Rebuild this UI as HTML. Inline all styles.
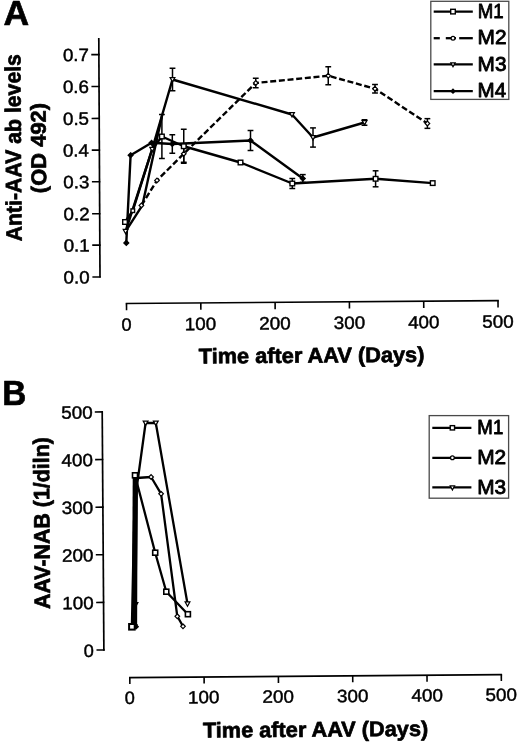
<!DOCTYPE html>
<html><head><meta charset="utf-8"><title>Figure</title>
<style>
html,body{margin:0;padding:0;background:#fff;}
body{width:520px;height:744px;overflow:hidden;}
svg{display:block;font-family:"Liberation Sans",sans-serif;fill:#000;filter:grayscale(100%);}
text{stroke:#000;stroke-width:0.45px;stroke-linejoin:round;}
text.lg{stroke-width:0.9px;}
text[font-weight=bold]{stroke-width:0.7px;}
</style></head><body>
<svg width="520" height="744" viewBox="0 0 520 744">
<rect width="520" height="744" fill="#fff"/>

<text  font-size="34.8" font-weight="bold" transform="translate(4.45 25.00) rotate(0) scale(1.0208 1.0)" x="-0.87" y="0">A</text>
<line x1="98.80" y1="38.10" x2="100.00" y2="277.60" stroke="#000" stroke-width="1.7" />
<line x1="91.28" y1="54.66" x2="99.68" y2="54.60" stroke="#000" stroke-width="1.6" />
<text  font-size="17.9" transform="translate(63.63 61.15) rotate(-0.43) scale(1.0507 1.0)" x="-0.72" y="0">0.7</text>
<line x1="91.44" y1="86.56" x2="99.84" y2="86.50" stroke="#000" stroke-width="1.6" />
<text  font-size="17.9" transform="translate(63.66 93.05) rotate(-0.43) scale(1.0507 1.0)" x="-0.72" y="0">0.6</text>
<line x1="91.60" y1="118.46" x2="100.00" y2="118.40" stroke="#000" stroke-width="1.6" />
<text  font-size="17.9" transform="translate(63.69 124.95) rotate(-0.43) scale(1.0508 1.0)" x="-0.72" y="0">0.5</text>
<line x1="91.76" y1="150.16" x2="100.16" y2="150.10" stroke="#000" stroke-width="1.6" />
<text  font-size="17.9" transform="translate(63.63 156.65) rotate(-0.43) scale(1.0510 1.0)" x="-0.72" y="0">0.4</text>
<line x1="91.92" y1="181.76" x2="100.32" y2="181.70" stroke="#000" stroke-width="1.6" />
<text  font-size="17.9" transform="translate(64.04 188.25) rotate(-0.43) scale(1.0507 1.0)" x="-0.72" y="0">0.3</text>
<line x1="92.08" y1="213.76" x2="100.48" y2="213.70" stroke="#000" stroke-width="1.6" />
<text  font-size="17.9" transform="translate(64.27 220.25) rotate(-0.43) scale(1.0507 1.0)" x="-0.72" y="0">0.2</text>
<line x1="92.24" y1="245.16" x2="100.64" y2="245.10" stroke="#000" stroke-width="1.6" />
<text  font-size="17.9" transform="translate(64.40 251.65) rotate(-0.43) scale(1.0507 1.0)" x="-0.72" y="0">0.1</text>
<line x1="92.40" y1="277.06" x2="100.80" y2="277.00" stroke="#000" stroke-width="1.6" />
<text  font-size="17.9" transform="translate(64.33 283.55) rotate(-0.43) scale(1.0508 1.0)" x="-0.72" y="0">0.0</text>
<line x1="125.70" y1="303.50" x2="498.80" y2="300.60" stroke="#000" stroke-width="1.6" />
<line x1="126.50" y1="303.50" x2="126.55" y2="310.30" stroke="#000" stroke-width="1.6" />
<text  font-size="17.9" transform="translate(122.18 330.70) rotate(-0.43) scale(1.0171 1.0)" x="-0.72" y="0">0</text>
<line x1="200.80" y1="302.92" x2="200.85" y2="309.72" stroke="#000" stroke-width="1.6" />
<text  font-size="17.9" transform="translate(186.18 330.12) rotate(-0.43) scale(1.0538 1.0)" x="-1.34" y="0">100</text>
<line x1="275.10" y1="302.34" x2="275.15" y2="309.14" stroke="#000" stroke-width="1.6" />
<text  font-size="17.9" transform="translate(260.24 329.54) rotate(-0.43) scale(1.0540 1.0)" x="-0.90" y="0">200</text>
<line x1="349.40" y1="301.76" x2="349.45" y2="308.56" stroke="#000" stroke-width="1.6" />
<text  font-size="17.9" transform="translate(334.45 328.96) rotate(-0.43) scale(1.0541 1.0)" x="-0.72" y="0">300</text>
<line x1="423.70" y1="301.18" x2="423.75" y2="307.98" stroke="#000" stroke-width="1.6" />
<text  font-size="17.9" transform="translate(408.60 328.38) rotate(-0.43) scale(1.0543 1.0)" x="-0.45" y="0">400</text>
<line x1="498.00" y1="300.60" x2="498.05" y2="307.40" stroke="#000" stroke-width="1.6" />
<text  font-size="17.9" transform="translate(483.05 327.80) rotate(-0.43) scale(1.0541 1.0)" x="-0.72" y="0">500</text>
<text  font-size="21.4" font-weight="bold" transform="translate(198.95 363.50) rotate(-0.43) scale(1.0170 1.0)" x="-0.21" y="0">Time after AAV (Days)</text>
<text font-size="22.3" font-weight="bold" transform="translate(21.70 240.75) rotate(-90.43) scale(0.9527 1)" x="-0.56" y="0">Anti-AAV ab levels</text>
<text font-size="21.3" font-weight="bold" transform="translate(46.20 192.05) rotate(-90.43) scale(1.0313 1)" x="-1.07" y="0">(OD 492)</text>
<polyline points="125,222 132.8,210.7 152.2,149.2 161.9,136.5 183.75,146.25 240.5,162.5 292.3,183.5 375.6,178.8 432.7,183.1" fill="none" stroke="#000" stroke-width="2.4" stroke-linejoin="round" stroke-linecap="butt"/>
<polyline points="125.6,231.3 152.2,149.2 172.5,79.5 292,114.5 313,137.5 364.5,122.5" fill="none" stroke="#000" stroke-width="2.4" stroke-linejoin="round" stroke-linecap="butt"/>
<polyline points="125.6,231.3 142.3,205.4 162.2,115.0" fill="none" stroke="#000" stroke-width="2.4" stroke-linejoin="round" stroke-linecap="butt"/>
<polyline points="126.3,242.9 130.6,155.2 151.6,142.8 172.3,144 250.5,140.5 302.8,178.5" fill="none" stroke="#000" stroke-width="2.4" stroke-linejoin="round" stroke-linecap="butt"/>
<polyline points="141.4,205.4 157,180.4 183.75,153.75 255.75,83 328.25,75.75 375,88.75 427.4,123.5" fill="none" stroke="#000" stroke-width="2.4" stroke-linejoin="round" stroke-linecap="butt" stroke-dasharray="6 2.7"/>
<line x1="161.90" y1="114.50" x2="161.90" y2="158.50" stroke="#000" stroke-width="1.5" />
<line x1="159.00" y1="114.50" x2="164.80" y2="114.50" stroke="#000" stroke-width="1.5" />
<line x1="159.00" y1="158.50" x2="164.80" y2="158.50" stroke="#000" stroke-width="1.5" />
<line x1="183.75" y1="129.25" x2="183.75" y2="163.25" stroke="#000" stroke-width="1.5" />
<line x1="180.85" y1="129.25" x2="186.65" y2="129.25" stroke="#000" stroke-width="1.5" />
<line x1="180.85" y1="163.25" x2="186.65" y2="163.25" stroke="#000" stroke-width="1.5" />
<line x1="292.30" y1="178.50" x2="292.30" y2="188.50" stroke="#000" stroke-width="1.5" />
<line x1="289.40" y1="178.50" x2="295.20" y2="178.50" stroke="#000" stroke-width="1.5" />
<line x1="289.40" y1="188.50" x2="295.20" y2="188.50" stroke="#000" stroke-width="1.5" />
<line x1="375.60" y1="170.80" x2="375.60" y2="186.80" stroke="#000" stroke-width="1.5" />
<line x1="372.70" y1="170.80" x2="378.50" y2="170.80" stroke="#000" stroke-width="1.5" />
<line x1="372.70" y1="186.80" x2="378.50" y2="186.80" stroke="#000" stroke-width="1.5" />
<line x1="183.75" y1="145.25" x2="183.75" y2="162.25" stroke="#000" stroke-width="1.5" />
<line x1="180.85" y1="145.25" x2="186.65" y2="145.25" stroke="#000" stroke-width="1.5" />
<line x1="180.85" y1="162.25" x2="186.65" y2="162.25" stroke="#000" stroke-width="1.5" />
<line x1="255.75" y1="78.25" x2="255.75" y2="87.75" stroke="#000" stroke-width="1.5" />
<line x1="252.85" y1="78.25" x2="258.65" y2="78.25" stroke="#000" stroke-width="1.5" />
<line x1="252.85" y1="87.75" x2="258.65" y2="87.75" stroke="#000" stroke-width="1.5" />
<line x1="328.25" y1="66.75" x2="328.25" y2="84.75" stroke="#000" stroke-width="1.5" />
<line x1="325.35" y1="66.75" x2="331.15" y2="66.75" stroke="#000" stroke-width="1.5" />
<line x1="325.35" y1="84.75" x2="331.15" y2="84.75" stroke="#000" stroke-width="1.5" />
<line x1="375.00" y1="84.50" x2="375.00" y2="93.00" stroke="#000" stroke-width="1.5" />
<line x1="372.10" y1="84.50" x2="377.90" y2="84.50" stroke="#000" stroke-width="1.5" />
<line x1="372.10" y1="93.00" x2="377.90" y2="93.00" stroke="#000" stroke-width="1.5" />
<line x1="427.40" y1="118.65" x2="427.40" y2="128.35" stroke="#000" stroke-width="1.5" />
<line x1="424.50" y1="118.65" x2="430.30" y2="118.65" stroke="#000" stroke-width="1.5" />
<line x1="424.50" y1="128.35" x2="430.30" y2="128.35" stroke="#000" stroke-width="1.5" />
<line x1="172.50" y1="68.25" x2="172.50" y2="90.75" stroke="#000" stroke-width="1.5" />
<line x1="169.60" y1="68.25" x2="175.40" y2="68.25" stroke="#000" stroke-width="1.5" />
<line x1="169.60" y1="90.75" x2="175.40" y2="90.75" stroke="#000" stroke-width="1.5" />
<line x1="313.00" y1="127.90" x2="313.00" y2="147.10" stroke="#000" stroke-width="1.5" />
<line x1="310.10" y1="127.90" x2="315.90" y2="127.90" stroke="#000" stroke-width="1.5" />
<line x1="310.10" y1="147.10" x2="315.90" y2="147.10" stroke="#000" stroke-width="1.5" />
<line x1="364.50" y1="119.75" x2="364.50" y2="125.25" stroke="#000" stroke-width="1.5" />
<line x1="361.60" y1="119.75" x2="367.40" y2="119.75" stroke="#000" stroke-width="1.5" />
<line x1="361.60" y1="125.25" x2="367.40" y2="125.25" stroke="#000" stroke-width="1.5" />
<line x1="172.30" y1="134.75" x2="172.30" y2="153.25" stroke="#000" stroke-width="1.5" />
<line x1="169.40" y1="134.75" x2="175.20" y2="134.75" stroke="#000" stroke-width="1.5" />
<line x1="169.40" y1="153.25" x2="175.20" y2="153.25" stroke="#000" stroke-width="1.5" />
<line x1="250.50" y1="130.50" x2="250.50" y2="150.50" stroke="#000" stroke-width="1.5" />
<line x1="247.60" y1="130.50" x2="253.40" y2="130.50" stroke="#000" stroke-width="1.5" />
<line x1="247.60" y1="150.50" x2="253.40" y2="150.50" stroke="#000" stroke-width="1.5" />
<line x1="302.80" y1="174.60" x2="302.80" y2="182.40" stroke="#000" stroke-width="1.5" />
<line x1="299.90" y1="174.60" x2="305.70" y2="174.60" stroke="#000" stroke-width="1.5" />
<line x1="299.90" y1="182.40" x2="305.70" y2="182.40" stroke="#000" stroke-width="1.5" />
<rect x="122.70" y="219.70" width="4.6" height="4.6" fill="#fff" stroke="#000" stroke-width="1.4"/>
<rect x="131.00" y="208.90" width="3.6" height="3.6" fill="#fff" stroke="#000" stroke-width="1.4"/>
<rect x="159.60" y="134.20" width="4.6" height="4.6" fill="#fff" stroke="#000" stroke-width="1.4"/>
<rect x="181.45" y="143.95" width="4.6" height="4.6" fill="#fff" stroke="#000" stroke-width="1.4"/>
<rect x="238.20" y="160.20" width="4.6" height="4.6" fill="#fff" stroke="#000" stroke-width="1.4"/>
<rect x="290.00" y="181.20" width="4.6" height="4.6" fill="#fff" stroke="#000" stroke-width="1.4"/>
<rect x="373.30" y="176.50" width="4.6" height="4.6" fill="#fff" stroke="#000" stroke-width="1.4"/>
<rect x="430.40" y="180.80" width="4.6" height="4.6" fill="#fff" stroke="#000" stroke-width="1.4"/>
<polygon points="141.4,203.1 143.70000000000002,205.4 141.4,207.70000000000002 139.1,205.4" fill="#fff" stroke="#000" stroke-width="1.2"/>
<polygon points="157,178.1 159.3,180.4 157,182.70000000000002 154.7,180.4" fill="#fff" stroke="#000" stroke-width="1.2"/>
<polygon points="183.75,151.45 186.05,153.75 183.75,156.05 181.45,153.75" fill="#fff" stroke="#000" stroke-width="1.2"/>
<polygon points="255.75,80.7 258.05,83 255.75,85.3 253.45,83" fill="#fff" stroke="#000" stroke-width="1.2"/>
<polygon points="328.25,73.45 330.55,75.75 328.25,78.05 325.95,75.75" fill="#fff" stroke="#000" stroke-width="1.2"/>
<polygon points="375,86.45 377.3,88.75 375,91.05 372.7,88.75" fill="#fff" stroke="#000" stroke-width="1.2"/>
<polygon points="427.4,121.2 429.7,123.5 427.4,125.8 425.09999999999997,123.5" fill="#fff" stroke="#000" stroke-width="1.2"/>
<polygon points="123.20,229.38 128.00,229.38 125.60,233.70" fill="#fff" stroke="#000" stroke-width="1.2"/>
<polygon points="149.80,147.28 154.60,147.28 152.20,151.60" fill="#fff" stroke="#000" stroke-width="1.2"/>
<polygon points="170.10,77.58 174.90,77.58 172.50,81.90" fill="#fff" stroke="#000" stroke-width="1.2"/>
<polygon points="289.60,112.58 294.40,112.58 292.00,116.90" fill="#fff" stroke="#000" stroke-width="1.2"/>
<polygon points="310.60,135.58 315.40,135.58 313.00,139.90" fill="#fff" stroke="#000" stroke-width="1.2"/>
<polygon points="362.10,120.58 366.90,120.58 364.50,124.90" fill="#fff" stroke="#000" stroke-width="1.2"/>
<polygon points="126.3,240.5 128.7,242.9 126.3,245.3 123.89999999999999,242.9" fill="#000" stroke="#000" stroke-width="1.3"/>
<polygon points="130.6,152.79999999999998 133.0,155.2 130.6,157.6 128.2,155.2" fill="#000" stroke="#000" stroke-width="1.3"/>
<polygon points="151.6,140.4 154.0,142.8 151.6,145.20000000000002 149.2,142.8" fill="#000" stroke="#000" stroke-width="1.3"/>
<polygon points="172.3,141.6 174.70000000000002,144 172.3,146.4 169.9,144" fill="#000" stroke="#000" stroke-width="1.3"/>
<polygon points="250.5,138.1 252.9,140.5 250.5,142.9 248.1,140.5" fill="#000" stroke="#000" stroke-width="1.3"/>
<polygon points="302.8,176.1 305.2,178.5 302.8,180.9 300.40000000000003,178.5" fill="#000" stroke="#000" stroke-width="1.3"/>
<rect x="430.8" y="1.3" width="78.0" height="98.1" fill="#fff" stroke="#4a4a4a" stroke-width="1.3"/>
<line x1="433.70" y1="11.60" x2="472.80" y2="11.60" stroke="#000" stroke-width="2.3" />
<rect x="450.70" y="9.30" width="4.6" height="4.6" fill="#fff" stroke="#000" stroke-width="1.4"/>
<text class="lg" font-size="21" transform="translate(479.25 17.80) rotate(0) scale(0.8881 1.0)" x="-1.68" y="0">M1</text>
<line x1="433.70" y1="38.20" x2="439.80" y2="38.20" stroke="#000" stroke-width="2.3" />
<line x1="445.80" y1="38.20" x2="456.00" y2="38.20" stroke="#000" stroke-width="2.3" />
<line x1="459.20" y1="38.20" x2="472.80" y2="38.20" stroke="#000" stroke-width="2.3" />
<circle cx="453" cy="38.2" r="1.9" fill="#fff" stroke="#000" stroke-width="1.2"/>
<text class="lg" font-size="21" transform="translate(479.25 44.40) rotate(0) scale(0.9940 1.0)" x="-1.68" y="0">M2</text>
<line x1="433.70" y1="64.30" x2="472.80" y2="64.30" stroke="#000" stroke-width="2.3" />
<polygon points="450.80,62.84 455.20,62.84 453.00,66.80" fill="#fff" stroke="#000" stroke-width="1.2"/>
<text class="lg" font-size="21" transform="translate(479.25 70.50) rotate(0) scale(0.9900 1.0)" x="-1.68" y="0">M3</text>
<line x1="433.70" y1="91.20" x2="472.80" y2="91.20" stroke="#000" stroke-width="2.3" />
<polygon points="453,89.2 455.0,91.2 453,93.2 451.0,91.2" fill="#000" stroke="#000" stroke-width="1.3"/>
<text class="lg" font-size="21" transform="translate(479.25 97.40) rotate(0) scale(0.9784 1.0)" x="-1.68" y="0">M4</text>
<text  font-size="35.6" font-weight="bold" transform="translate(4.45 405.00) rotate(0) scale(0.9348 1.0)" x="-2.31" y="0">B</text>
<line x1="102.20" y1="411.50" x2="103.90" y2="650.70" stroke="#000" stroke-width="1.7" />
<line x1="94.80" y1="411.96" x2="103.00" y2="411.90" stroke="#000" stroke-width="1.6" />
<text  font-size="17.9" transform="translate(61.97 418.80) rotate(-0.43) scale(1.0541 1.0)" x="-0.72" y="0">500</text>
<line x1="95.14" y1="459.58" x2="103.34" y2="459.52" stroke="#000" stroke-width="1.6" />
<text  font-size="17.9" transform="translate(61.92 466.42) rotate(-0.43) scale(1.0543 1.0)" x="-0.45" y="0">400</text>
<line x1="95.48" y1="507.20" x2="103.68" y2="507.14" stroke="#000" stroke-width="1.6" />
<text  font-size="17.9" transform="translate(62.45 514.04) rotate(-0.43) scale(1.0541 1.0)" x="-0.72" y="0">300</text>
<line x1="95.82" y1="554.82" x2="104.02" y2="554.76" stroke="#000" stroke-width="1.6" />
<text  font-size="17.9" transform="translate(62.88 561.66) rotate(-0.43) scale(1.0540 1.0)" x="-0.90" y="0">200</text>
<line x1="96.16" y1="602.44" x2="104.36" y2="602.38" stroke="#000" stroke-width="1.6" />
<text  font-size="17.9" transform="translate(63.60 609.28) rotate(-0.43) scale(1.0538 1.0)" x="-1.34" y="0">100</text>
<line x1="96.50" y1="650.06" x2="104.70" y2="650.00" stroke="#000" stroke-width="1.6" />
<text  font-size="17.9" transform="translate(84.43 656.90) rotate(-0.43) scale(1.0171 1.0)" x="-0.72" y="0">0</text>
<line x1="129.00" y1="677.60" x2="502.10" y2="674.60" stroke="#000" stroke-width="1.6" />
<line x1="129.80" y1="677.60" x2="129.85" y2="684.10" stroke="#000" stroke-width="1.6" />
<text  font-size="17.9" transform="translate(125.48 704.00) rotate(-0.43) scale(1.0171 1.0)" x="-0.72" y="0">0</text>
<line x1="204.10" y1="677.00" x2="204.15" y2="683.50" stroke="#000" stroke-width="1.6" />
<text  font-size="17.9" transform="translate(189.48 703.40) rotate(-0.43) scale(1.0538 1.0)" x="-1.34" y="0">100</text>
<line x1="278.40" y1="676.40" x2="278.45" y2="682.90" stroke="#000" stroke-width="1.6" />
<text  font-size="17.9" transform="translate(263.54 702.80) rotate(-0.43) scale(1.0540 1.0)" x="-0.90" y="0">200</text>
<line x1="352.70" y1="675.80" x2="352.75" y2="682.30" stroke="#000" stroke-width="1.6" />
<text  font-size="17.9" transform="translate(337.75 702.20) rotate(-0.43) scale(1.0541 1.0)" x="-0.72" y="0">300</text>
<line x1="427.00" y1="675.20" x2="427.05" y2="681.70" stroke="#000" stroke-width="1.6" />
<text  font-size="17.9" transform="translate(411.90 701.60) rotate(-0.43) scale(1.0543 1.0)" x="-0.45" y="0">400</text>
<line x1="501.30" y1="674.60" x2="501.35" y2="681.10" stroke="#000" stroke-width="1.6" />
<text  font-size="17.9" transform="translate(486.35 701.00) rotate(-0.43) scale(1.0541 1.0)" x="-0.72" y="0">500</text>
<text  font-size="21.4" font-weight="bold" transform="translate(203.15 737.60) rotate(-0.43) scale(1.0157 1.0)" x="-0.21" y="0">Time after AAV (Days)</text>
<text font-size="22.2" font-weight="bold" transform="translate(50.10 608.45) rotate(-90.43) scale(0.9637 1)" x="-0.56" y="0">AAV-NAB (1/diln)</text>
<polyline points="131.9,626.8 135,475.3 155.2,552.7 166.3,591.7 187.9,614.2" fill="none" stroke="#000" stroke-width="2.3" stroke-linejoin="round" stroke-linecap="butt"/>
<polyline points="136,626.7 136.5,478 151.1,477 161.1,493.8 177.3,616.3 183,626.3" fill="none" stroke="#000" stroke-width="2.3" stroke-linejoin="round" stroke-linecap="butt"/>
<polyline points="134.5,626.5 135.5,604.5 136.8,487 145.6,423 155.8,423 187.5,603.8" fill="none" stroke="#000" stroke-width="2.3" stroke-linejoin="round" stroke-linecap="butt"/>
<line x1="134.40" y1="478.00" x2="133.60" y2="626.00" stroke="#000" stroke-width="3.4" />
<polygon points="136,624.4000000000001 138.3,626.7 136,629.0 133.7,626.7" fill="#000" stroke="#000" stroke-width="1.2"/>
<polygon points="136.5,475.7 138.8,478 136.5,480.3 134.2,478" fill="#000" stroke="#000" stroke-width="1.2"/>
<polygon points="151.1,474.7 153.4,477 151.1,479.3 148.79999999999998,477" fill="#fff" stroke="#000" stroke-width="1.2"/>
<polygon points="161.1,491.5 163.4,493.8 161.1,496.1 158.79999999999998,493.8" fill="#fff" stroke="#000" stroke-width="1.2"/>
<polygon points="177.3,614.0 179.60000000000002,616.3 177.3,618.5999999999999 175.0,616.3" fill="#fff" stroke="#000" stroke-width="1.2"/>
<polygon points="183,624.0 185.3,626.3 183,628.5999999999999 180.7,626.3" fill="#fff" stroke="#000" stroke-width="1.2"/>
<polygon points="132.10,624.58 136.90,624.58 134.50,628.90" fill="#000" stroke="#000" stroke-width="1.2"/>
<polygon points="133.10,602.58 137.90,602.58 135.50,606.90" fill="#000" stroke="#000" stroke-width="1.2"/>
<polygon points="143.20,421.08 148.00,421.08 145.60,425.40" fill="#fff" stroke="#000" stroke-width="1.2"/>
<polygon points="153.40,421.08 158.20,421.08 155.80,425.40" fill="#fff" stroke="#000" stroke-width="1.2"/>
<polygon points="185.10,601.88 189.90,601.88 187.50,606.20" fill="#fff" stroke="#000" stroke-width="1.2"/>
<rect x="129.10" y="624.00" width="5.6" height="5.6" fill="#fff" stroke="#000" stroke-width="2.0"/>
<rect x="132.50" y="472.80" width="5.0" height="5.0" fill="#fff" stroke="#000" stroke-width="1.6"/>
<rect x="152.70" y="550.20" width="5.0" height="5.0" fill="#fff" stroke="#000" stroke-width="1.6"/>
<rect x="163.80" y="589.20" width="5.0" height="5.0" fill="#fff" stroke="#000" stroke-width="1.6"/>
<rect x="185.40" y="611.70" width="5.0" height="5.0" fill="#fff" stroke="#000" stroke-width="1.6"/>
<rect x="429.2" y="415.6" width="79.4" height="82.6" fill="#fff" stroke="#4a4a4a" stroke-width="1.3"/>
<line x1="432.30" y1="427.80" x2="471.40" y2="427.80" stroke="#000" stroke-width="2.2" />
<rect x="450.25" y="425.65" width="4.3" height="4.3" fill="#fff" stroke="#000" stroke-width="1.4"/>
<text class="lg" font-size="21" transform="translate(478.85 434.00) rotate(0) scale(0.8881 1.0)" x="-1.68" y="0">M1</text>
<line x1="432.30" y1="457.80" x2="471.40" y2="457.80" stroke="#000" stroke-width="2.2" />
<circle cx="452.4" cy="457.8" r="1.9" fill="#fff" stroke="#000" stroke-width="1.3"/>
<text class="lg" font-size="21" transform="translate(478.85 464.00) rotate(0) scale(0.9940 1.0)" x="-1.68" y="0">M2</text>
<line x1="432.30" y1="487.40" x2="471.40" y2="487.40" stroke="#000" stroke-width="2.2" />
<polygon points="450.20,485.94 454.60,485.94 452.40,489.90" fill="#fff" stroke="#000" stroke-width="1.2"/>
<text class="lg" font-size="21" transform="translate(478.85 493.60) rotate(0) scale(0.9900 1.0)" x="-1.68" y="0">M3</text>
</svg></body></html>
